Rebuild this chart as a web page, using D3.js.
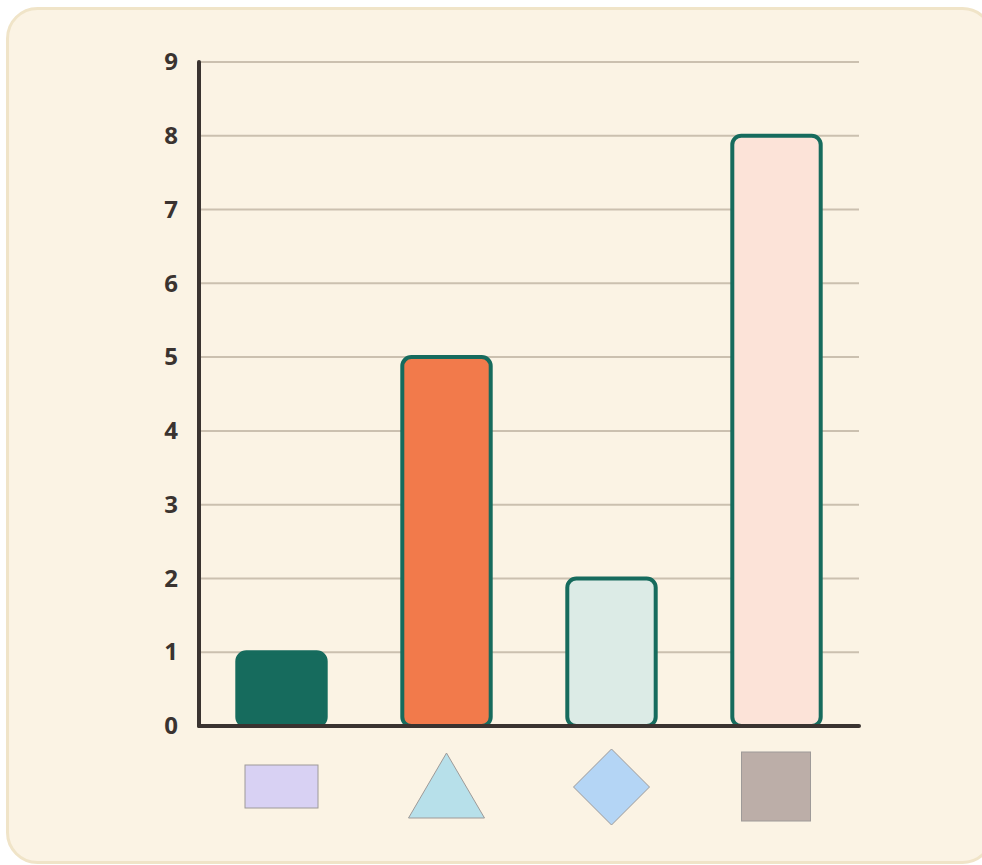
<!DOCTYPE html>
<html><head><meta charset="utf-8">
<script src="https://cdn.jsdelivr.net/npm/d3@7"></script>
<style>html,body{margin:0;padding:0;background:#fff;}svg{display:block;}</style>
</head><body>
<svg id="c" width="982" height="865"></svg>
<script>
const categories = ["rect", "triangle", "diamond", "square"];
const values = [1, 5, 2, 8];
const barFills = ["#166b5d", "#f27a4b", "#dcebe6", "#fce3d8"];
const shapeFills = ["#d8d1f3", "#b7e0ea", "#b4d5f5", "#bcaea8"];
const yTicks = [0,1,2,3,4,5,6,7,8,9];

const svg = d3.select("#c");
svg.append("rect").attr("x",7.5).attr("y",8.5).attr("width",985).attr("height",854)
  .attr("rx",30).attr("fill","#fbf3e4").attr("stroke","#f0e4c8").attr("stroke-width",3);

const L=199, R=859, T=62, B=726;
const x = d3.scaleBand().domain(categories).range([L,R]).paddingInner(0.44).paddingOuter(0.22);
const y = d3.scaleLinear().domain([0,9]).range([B,T]);

// grid
svg.append("g").selectAll("line").data(yTicks.filter(d=>d>0)).join("line")
  .attr("x1",L).attr("x2",R).attr("y1",d=>y(d)).attr("y2",d=>y(d))
  .attr("stroke","#cbc0af").attr("stroke-width",2);

// y axis labels via d3 axis
const yAxis = svg.append("g").attr("transform",`translate(${L},0)`)
  .call(d3.axisLeft(y).tickValues(yTicks).tickSize(0).tickPadding(21).tickFormat(d3.format("d")));
yAxis.select(".domain").remove();
yAxis.selectAll("text").style("font-family","'Open Sans', sans-serif").style("font-weight","700")
  .style("font-size","24px").attr("fill","#3a3330");

// bars
svg.append("g").selectAll("rect").data(values).join("rect")
  .attr("x",(d,i)=>x(categories[i])+2).attr("width",x.bandwidth()-4)
  .attr("y",d=>y(d)).attr("height",d=>B-y(d))
  .attr("rx",9).attr("fill",(d,i)=>barFills[i])
  .attr("stroke","#166b5d").attr("stroke-width",4);

// axis lines
svg.append("line").attr("x1",L).attr("x2",L).attr("y1",T).attr("y2",B)
  .attr("stroke","#3a3330").attr("stroke-width",4).attr("stroke-linecap","round");
svg.append("line").attr("x1",L).attr("x2",R).attr("y1",B).attr("y2",B)
  .attr("stroke","#3a3330").attr("stroke-width",4).attr("stroke-linecap","round");

// shapes under categories
const g = svg.append("g");
categories.forEach((c,i)=>{
  const cx = x(c)+x.bandwidth()/2, cy = 787;
  let p;
  if(c==="rect"){ p = g.append("rect").attr("x",cx-36.5).attr("y",cy-22).attr("width",73).attr("height",43); }
  else if(c==="triangle"){ p = g.append("path").attr("d",`M${cx},${cy-34}L${cx+38},${cy+31}L${cx-38},${cy+31}Z`); }
  else if(c==="diamond"){ p = g.append("path").attr("d",`M${cx},${cy-38}L${cx+38},${cy}L${cx},${cy+38}L${cx-38},${cy}Z`); }
  else { p = g.append("rect").attr("x",cx-35).attr("y",cy-35).attr("width",69).attr("height",69); }
  p.attr("fill",shapeFills[i]).attr("stroke","#9e9a98").attr("stroke-width",1);
});
</script>
</body></html>
